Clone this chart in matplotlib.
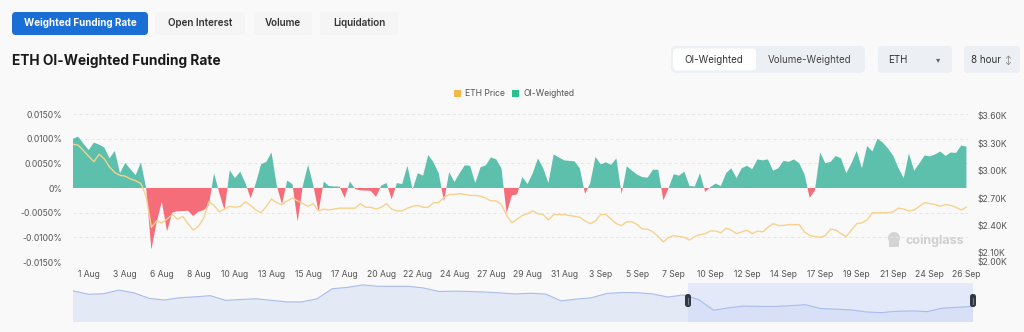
import numpy as np
import matplotlib
matplotlib.use("Agg")
import matplotlib.pyplot as plt
from matplotlib.patches import FancyBboxPatch, Rectangle

plt.rcParams['font.family'] = ['Inter', 'DejaVu Sans']

# OI-weighted funding rate (%), one value every 8 hours, 31 Jul -> 26 Sep
funding = [
    0.0100, 0.0104, 0.0090, 0.0077, 0.0092, 0.0088, 0.0082, 0.0060, 0.0075, 0.0030,
    0.0051, 0.0038, 0.0026, 0.0052, 0.0000, -0.0125, -0.0070, -0.0028, -0.0088, -0.0050,
    -0.0047, -0.0047, -0.0046, -0.0057, -0.0048, -0.0045, -0.0035, 0.0030, -0.0010, -0.0045,
    0.0036, 0.0020, 0.0033, 0.0010, -0.0021, 0.0010, 0.0048, 0.0053, 0.0072, 0.0005,
    -0.0033, 0.0015, 0.0008, -0.0068, 0.0005, 0.0047, 0.0005, -0.0048, 0.0013, 0.0004,
    0.0003, 0.0003, -0.0020, 0.0013, -0.0002, -0.0005, -0.0005, -0.0006, -0.0018, 0.0005,
    0.0010, -0.0023, 0.0010, 0.0008, 0.0045, -0.0003, 0.0030, 0.0025, 0.0067, 0.0052,
    0.0030, -0.0027, 0.0032, 0.0012, 0.0030, 0.0046, 0.0045, 0.0010, 0.0042, 0.0046,
    0.0062, 0.0058, 0.0040, -0.0051, -0.0015, -0.0013, 0.0022, 0.0008, 0.0030, 0.0060,
    0.0040, 0.0010, 0.0068, 0.0062, 0.0056, 0.0055, 0.0054, 0.0040, -0.0012, 0.0010,
    0.0063, 0.0048, 0.0052, 0.0047, 0.0060, -0.0012, 0.0044, 0.0035, 0.0027, 0.0022,
    0.0021, 0.0037, 0.0037, -0.0025, 0.0000, 0.0028, 0.0025, 0.0033, 0.0004, 0.0003,
    0.0030, -0.0008, 0.0002, 0.0009, 0.0004, 0.0030, 0.0040, 0.0020, 0.0040, 0.0045,
    0.0038, 0.0058, 0.0056, 0.0058, 0.0035, 0.0040, 0.0055, 0.0053, 0.0058, 0.0050,
    0.0028, -0.0020, -0.0005, 0.0072, 0.0050, 0.0053, 0.0065, 0.0060, 0.0030, 0.0050,
    0.0075, 0.0040, 0.0085, 0.0074, 0.0100, 0.0092, 0.0080, 0.0065, 0.0040, 0.0020,
    0.0070, 0.0035, 0.0050, 0.0066, 0.0064, 0.0068, 0.0074, 0.0065, 0.0072, 0.0071,
    0.0086, 0.0084,
]

# ETH price ($K), same timestamps
price = [
    3.29, 3.28, 3.22, 3.16, 3.10, 3.18, 3.13, 3.04, 2.98, 2.95,
    2.94, 2.91, 2.89, 2.86, 2.72, 2.38, 2.45, 2.43, 2.47, 2.52,
    2.47, 2.50, 2.42, 2.35, 2.39, 2.48, 2.66, 2.62, 2.55, 2.58,
    2.61, 2.60, 2.61, 2.66, 2.62, 2.57, 2.54, 2.61, 2.69, 2.65,
    2.63, 2.67, 2.70, 2.67, 2.64, 2.61, 2.64, 2.56, 2.58, 2.57,
    2.58, 2.59, 2.59, 2.59, 2.59, 2.64, 2.60, 2.60, 2.58, 2.60,
    2.64, 2.58, 2.56, 2.56, 2.59, 2.61, 2.62, 2.60, 2.60, 2.65,
    2.65, 2.71, 2.74, 2.74, 2.75, 2.74, 2.73, 2.73, 2.72, 2.70,
    2.67, 2.67, 2.63, 2.51, 2.43, 2.47, 2.51, 2.53, 2.56, 2.53,
    2.52, 2.46, 2.52, 2.52, 2.52, 2.51, 2.50, 2.49, 2.45, 2.42,
    2.45, 2.52, 2.52, 2.47, 2.42, 2.40, 2.44, 2.44, 2.41, 2.36,
    2.36, 2.33, 2.28, 2.22, 2.27, 2.29, 2.28, 2.27, 2.24, 2.28,
    2.30, 2.31, 2.34, 2.34, 2.32, 2.37, 2.35, 2.31, 2.33, 2.35,
    2.31, 2.34, 2.33, 2.38, 2.42, 2.40, 2.40, 2.41, 2.41, 2.41,
    2.33, 2.29, 2.28, 2.27, 2.29, 2.36, 2.35, 2.31, 2.28, 2.35,
    2.42, 2.43, 2.46, 2.54, 2.54, 2.54, 2.54, 2.55, 2.59, 2.58,
    2.56, 2.57, 2.61, 2.65, 2.64, 2.63, 2.61, 2.63, 2.62, 2.60,
    2.57, 2.60,
]

tick_labels = ["1 Aug", "3 Aug", "6 Aug", "8 Aug", "10 Aug", "13 Aug", "15 Aug",
               "17 Aug", "20 Aug", "22 Aug", "24 Aug", "27 Aug", "29 Aug", "31 Aug",
               "3 Sep", "5 Sep", "7 Sep", "10 Sep", "12 Sep", "14 Sep", "17 Sep",
               "19 Sep", "21 Sep", "24 Sep", "26 Sep"]
left_ticks = [-0.015, -0.010, -0.005, 0.0, 0.005, 0.010, 0.015]
left_labels = ["-0.0150%", "-0.0100%", "-0.0050%", "0%", "0.0050%", "0.0100%", "0.0150%"]
right_ticks = [2.0, 2.1, 2.4, 2.7, 3.0, 3.3, 3.6]
right_labels = ["$2.00K", "$2.10K", "$2.40K", "$2.70K", "$3.00K", "$3.30K", "$3.60K"]

# navigator: longer ETH price history ($K)
nav_price = [
    3.50, 3.30, 3.33, 3.54, 3.38, 3.06, 2.97, 3.10, 3.15, 3.22,
    2.95, 3.00, 3.04, 2.95, 2.86, 2.86, 3.04, 3.62, 3.70, 3.84,
    3.76, 3.76, 3.76, 3.66, 3.46, 3.48, 3.46, 3.43, 3.38, 3.32,
    3.36, 3.31, 2.92, 3.02, 3.10, 3.35, 3.40, 3.39, 3.32, 3.14,
    3.26, 3.00, 2.38, 2.52, 2.62, 2.60, 2.60, 2.64, 2.70, 2.48,
    2.44, 2.40, 2.28, 2.24, 2.32, 2.34, 2.30, 2.50, 2.55, 2.60,
]

W, H = 1024, 332
BG = "#f9f9f9"
GREEN = "#5cc0ac"
RED = "#f66d7a"
ORANGE = "#f8d18c"
TXT = "#555555"

fig = plt.figure(figsize=(W / 100, H / 100), dpi=100, facecolor=BG)


def fx(x):
    return x / W


def fy(y):
    return 1 - y / H


def pixel_axes(z):
    a = fig.add_axes([0, 0, 1, 1], zorder=z)
    a.set_xlim(0, W)
    a.set_ylim(H, 0)
    a.axis("off")
    a.patch.set_alpha(0)
    return a


# page overlay in pixel coordinates for the UI widgets
ui = pixel_axes(-1)
top = pixel_axes(10)


def box(a, x0, y0, w, h, fc, ec="none", r=4, z=1):
    a.add_patch(FancyBboxPatch((x0, y0), w, h, boxstyle=f"round,pad=0,rounding_size={r}",
                               fc=fc, ec=ec, lw=0.8, zorder=z))


# tabs
box(ui, 12, 12, 136, 23, "#1a6fd6")
ui.text(80, 23.5, "Weighted Funding Rate", color="white", fontsize=7.1, fontweight="bold",
        ha="center", va="center")
for cx, w, lab in [(200, 90, "Open Interest"), (283, 58, "Volume"), (359, 78, "Liquidation")]:
    box(ui, cx - w / 2, 12, w, 23, "#f5f5f5")
    ui.text(cx, 23.5, lab, color="#333333", fontsize=7.1, fontweight="semibold",
            ha="center", va="center")

ui.text(12, 61, "ETH OI-Weighted Funding Rate", color="#1a1a1a", fontsize=9.9,
        fontweight="bold", ha="left", va="center")

# right-hand controls
box(ui, 671, 46, 194, 27, "#eceff3", r=5)
box(ui, 673, 48.5, 83, 22, "white", r=4, z=2)
ui.text(714, 60, "OI-Weighted", color="#333333", fontsize=7, ha="center", va="center", zorder=3)
ui.text(810, 60, "Volume-Weighted", color="#444444", fontsize=7, ha="center", va="center", zorder=3)
box(ui, 878, 46, 74, 27, "#eceff3", r=4)
ui.text(888, 60, "ETH", color="#333333", fontsize=7, ha="left", va="center")
ui.text(938, 60, "\u25be", color="#666666", fontsize=6, ha="center", va="center")
box(ui, 964, 46, 56, 27, "#eceff3", r=4)
ui.text(971, 60, "8 hour", color="#333333", fontsize=7, ha="left", va="center")
ui.text(1008, 60, "\u2195", color="#777777", fontsize=6, ha="center", va="center")

# legend
ui.add_patch(Rectangle((454, 89.5), 7, 7, fc="#f2b84b", ec="none"))
ui.text(465, 93.5, "ETH Price", color=TXT, fontsize=6.2, ha="left", va="center")
ui.add_patch(Rectangle((512, 89.5), 7, 7, fc="#27c28e", ec="none"))
ui.text(523, 93.5, "OI-Weighted", color=TXT, fontsize=6.2, ha="left", va="center")

# watermark
ui.text(935, 241, "coinglass", color="#cfcfcf", fontsize=9, fontweight="bold",
        ha="center", va="center")
ui.add_patch(Rectangle((889, 235), 10, 12, fc="#d4d4d4", ec="none"))
ui.add_patch(plt.Circle((894, 238), 6, fc="#d4d4d4", ec="none"))

# main chart
L, R, T, B = 73, 968, 114, 262
ax = fig.add_axes([fx(L), fy(B), fx(R - L), fy(T) - fy(B)])
ax.patch.set_alpha(0)
n = len(funding)
xs = np.arange(n)
f = np.array(funding)
ax.fill_between(xs, f, 0, where=f >= 0, interpolate=True, fc=GREEN, ec="none", zorder=3)
ax.fill_between(xs, f, 0, where=f <= 0, interpolate=True, fc=RED, ec="none", zorder=3)
ax.set_xlim(0, n - 1 + 0.3)
ax.set_ylim(-0.015, 0.015)
ax.set_yticks(left_ticks)
ax.set_yticklabels(left_labels)
ax.set_xticks(3 + 7 * np.arange(len(tick_labels)))
ax.set_xticklabels(tick_labels)
for v in left_ticks:
    if v != 0:
        ax.axhline(v, color="#e4e4e4", lw=0.6, ls=(0, (4, 3)), zorder=1)
for s in ax.spines.values():
    s.set_visible(False)
ax.tick_params(length=0, labelsize=6.2, labelcolor=TXT, pad=6)
ax.tick_params(axis="y", pad=8)

ax2 = ax.twinx()
ax2.patch.set_alpha(0)
ax2.plot(xs, price, color=ORANGE, lw=1.0, zorder=4)
ax2.set_ylim(2.0, 2.0 + (B - T) / 91.25)
ax2.set_yticks(right_ticks)
ax2.set_yticklabels(right_labels)
for s in ax2.spines.values():
    s.set_visible(False)
ax2.tick_params(length=0, labelsize=6.2, labelcolor=TXT, pad=7)

# navigator
NL, NR, NT, NB = 73, 973, 283, 322
nav = fig.add_axes([fx(NL), fy(NB), fx(NR - NL), fy(NT) - fy(NB)])
nav.patch.set_alpha(0)
m = len(nav_price)
nx = np.arange(m)
nav.fill_between(nx, nav_price, 1.7, fc="#e4e9f6", ec="none")
nav.plot(nx, nav_price, color="#a9bcec", lw=0.8)
nav.set_xlim(0, m - 1)
nav.set_ylim(1.7, 3.95)
sel0 = (688 - NL) / (NR - NL) * (m - 1)
nav.axvspan(sel0, m - 1, color="#c9d7f7", alpha=0.45, lw=0)
nav.axis("off")
for hx in (688, 973):
    box(top, hx - 3, 294, 6, 13, "#333a45", r=2.5, z=5)
    top.plot([hx, hx], [297.5, 303.5], color="#8a909a", lw=0.6, zorder=6)

fig.savefig("out.png", dpi=100, facecolor=BG)
